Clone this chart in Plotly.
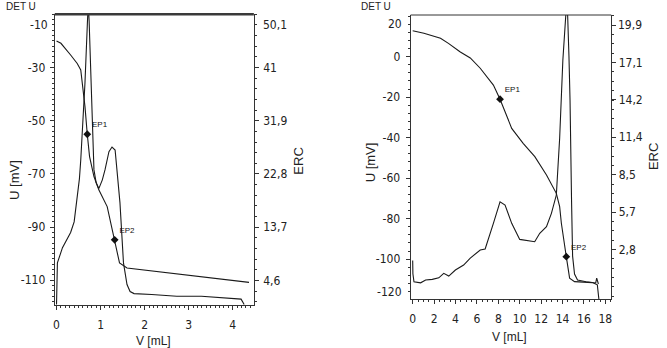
import plotly.graph_objects as go

# ---------------- data: left chart ----------------
left_v_u = [0, 0.1, 0.32, 0.47, 0.55, 0.585, 0.646, 0.698, 0.75, 0.85, 0.96, 1.15, 1.22, 1.32, 1.43, 1.6, 2.16, 2.7, 3.29, 3.96, 4.37]
left_u = [-20.0, -20.9, -25.3, -28.5, -30.9, -35.9, -44.7, -55.1, -63.5, -71.0, -76.0, -82.3, -87.3, -94.8, -103.5, -105.4, -106.5, -107.5, -108.8, -110.2, -110.8]

left_v_erc = [0, 0.01, 0.02, 0.135, 0.32, 0.40, 0.47, 0.52, 0.55, 0.585, 0.646, 0.70, 0.72, 0.74, 0.77, 0.81, 0.85, 0.90, 0.96, 1.04, 1.10, 1.19, 1.26, 1.33, 1.37, 1.44, 1.52, 1.60, 1.67, 1.76, 2.16, 2.73, 3.29, 3.74, 3.96, 4.19, 4.26]
left_erc = [0.5, 4.0, 7.6, 10.2, 12.8, 14.6, 18.4, 22.0, 25.2, 29.8, 38.4, 48.5, 52.0, 49.0, 41.2, 29.8, 23.5, 21.3, 20.3, 21.8, 23.5, 26.6, 27.4, 26.9, 23.5, 17.9, 7.6, 3.9, 2.7, 2.35, 2.2, 1.9, 1.9, 1.7, 1.55, 1.4, 0.5]

left_ep_v = [0.698, 1.32]
left_ep_u = [-55.1, -94.8]
left_ep_names = ["EP1", "EP2"]

left_u_ticks = [-10, -30, -50, -70, -90, -110]
left_u_labels = ["", "-30", "-50", "-70", "-90", "-110"]
left_erc_ticks = [4.6, 13.7, 22.8, 31.9, 41.0, 50.1]
left_erc_labels = ["4,6", "13,7", "22,8", "31,9", "41", ""]
left_v_ticks = [0, 1, 2, 3, 4]

# ---------------- data: right chart ----------------
right_v_u = [0, 1.05, 2.6, 3.34, 4.45, 5.38, 6.31, 7.54, 8.16, 9.25, 10.32, 11.41, 12.5, 13.27, 13.42, 13.73, 13.89, 14.35, 14.66, 15.12, 16.0, 16.79, 17.25, 17.44]
right_u = [12.8, 11.6, 9.1, 6.6, 2.3, -0.6, -5.7, -14.0, -21.0, -35.4, -42.8, -49.4, -58.4, -66.7, -67.5, -74.1, -82.3, -98.8, -109.4, -111.1, -111.3, -111.6, -112.7, -122.0]

right_v_erc = [0, 0.02, 0.12, 0.74, 1.21, 1.83, 2.44, 2.9, 3.37, 3.99, 4.76, 5.38, 6.31, 6.77, 7.54, 8.16, 8.63, 9.25, 10.0, 11.4, 11.87, 12.5, 12.96, 13.42, 13.73, 14.03, 14.3, 14.45, 14.6, 14.7, 14.84, 14.94, 15.12, 15.4, 16.2, 16.98, 17.1, 17.19, 17.25, 17.35]
right_erc = [2.0, 1.0, 0.39, 0.31, 0.52, 0.57, 0.69, 1.03, 0.82, 1.28, 1.66, 2.19, 2.8, 2.88, 4.83, 6.47, 6.22, 4.83, 3.61, 3.43, 4.07, 4.57, 5.59, 6.98, 11.3, 17.24, 20.6, 21.3, 17.5, 14.2, 6.6, 2.34, 0.98, 0.52, 0.39, 0.27, 0.3, 0.67, 0.4, 0.22]

right_ep_v = [8.16, 14.35]
right_ep_u = [-21.0, -98.8]
right_ep_names = ["EP1", "EP2"]

right_u_ticks = [-120, -100, -80, -60, -40, -20, 0, 20]
right_u_labels = ["", "-100", "-80", "-60", "-40", "-20", "0", ""]
right_erc_ticks = [2.84, 5.69, 8.53, 11.37, 14.21, 17.06, 19.9]
right_erc_labels = ["2,8", "5,7", "8,5", "11,4", "14,2", "17,1", ""]
right_v_ticks = [0, 2, 4, 6, 8, 10, 12, 14, 16, 18]

# ---------------- figure ----------------
W, H = 667, 348
LINE = "#1a1a1a"
AX = "#333333"
FONT = "Liberation Sans Narrow, Arial Narrow, DejaVu Sans Condensed, Liberation Sans, sans-serif"
TFONT = "Liberation Sans, Arial, sans-serif"
TICKSIZE = 12

def px(x):
    return x / W

def py(y):
    return 1 - y / H

fig = go.Figure()
lw = 1.1
fig.add_trace(go.Scatter(x=left_v_u, y=left_u, mode="lines", line=dict(color=LINE, width=lw),
                         xaxis="x", yaxis="y", showlegend=False))
fig.add_trace(go.Scatter(x=left_v_erc, y=left_erc, mode="lines", line=dict(color=LINE, width=lw),
                         xaxis="x", yaxis="y2", showlegend=False))
fig.add_trace(go.Scatter(x=left_ep_v, y=left_ep_u, mode="markers+text", text=left_ep_names,
                         textposition="top right", textfont=dict(size=8, color="#111", family=TFONT),
                         marker=dict(symbol="diamond", size=6, color="#111"),
                         xaxis="x", yaxis="y", showlegend=False))

fig.add_trace(go.Scatter(x=right_v_u, y=right_u, mode="lines", line=dict(color=LINE, width=lw),
                         xaxis="x2", yaxis="y3", showlegend=False))
fig.add_trace(go.Scatter(x=right_v_erc, y=right_erc, mode="lines", line=dict(color=LINE, width=lw),
                         xaxis="x2", yaxis="y4", showlegend=False))
fig.add_trace(go.Scatter(x=right_ep_v, y=right_ep_u, mode="markers+text", text=right_ep_names,
                         textposition="top right", textfont=dict(size=8, color="#111", family=TFONT),
                         marker=dict(symbol="diamond", size=6, color="#111"),
                         xaxis="x2", yaxis="y3", showlegend=False))

tickfont = dict(family=FONT, size=TICKSIZE, color="#222")
common = dict(showline=True, linecolor=AX, linewidth=1, ticks="outside", tickcolor=AX,
              ticklen=4, tickwidth=1, showgrid=False, zeroline=False, tickfont=tickfont,
              tickmode="array")

def minor(vals):
    return dict(tickmode="array", tickvals=vals, ticklen=2, tickcolor=AX, ticks="outside", tickwidth=1)

L_dom_x = [px(53), px(253)]
L_dom_y = [py(305), py(14.3)]
R_dom_x = [px(410.5), px(612)]
R_dom_y = [py(299), py(15)]

fig.update_layout(
    width=W, height=H,
    margin=dict(l=0, r=0, t=0, b=0),
    paper_bgcolor="white", plot_bgcolor="white",
    xaxis=dict(domain=L_dom_x, anchor="y", range=[-0.04, 4.48], tickvals=left_v_ticks,
               ticklabelstandoff=5, minor=minor([k * 0.1 for k in range(0, 45)]), **common),
    yaxis=dict(domain=L_dom_y, anchor="x", range=[-119.3, -10], tickvals=left_u_ticks,
               ticktext=left_u_labels, ticklabelstandoff=2,
               minor=minor([-118 + 2 * k for k in range(0, 55)]), **common),
    yaxis2=dict(overlaying="y", side="right", anchor="x", range=[0.4, 50.1],
                tickvals=left_erc_ticks, ticktext=left_erc_labels, ticklabelstandoff=2,
                minor=minor([4.6 + 1.82 * k for k in range(-2, 26)]), **common),
    xaxis2=dict(domain=R_dom_x, anchor="y3", range=[-0.19, 18.55], tickvals=right_v_ticks,
                ticklabelstandoff=5, minor=minor([k * 0.5 for k in range(0, 38)]), **common),
    yaxis3=dict(domain=R_dom_y, anchor="x2", range=[-119.7, 20.6], tickvals=right_u_ticks,
                ticktext=right_u_labels, ticklabelstandoff=3,
                minor=minor([-120 + 4 * k for k in range(0, 36)]), **common),
    yaxis4=dict(overlaying="y3", side="right", anchor="x2", range=[-0.92, 20.66],
                tickvals=right_erc_ticks, ticktext=right_erc_labels,
                minor=minor([0.71 * k for k in range(-1, 30)]), **common),
)

# top border lines
fig.add_shape(type="line", xref="paper", yref="paper", x0=L_dom_x[0], x1=L_dom_x[1],
              y0=L_dom_y[1], y1=L_dom_y[1], line=dict(color="#3a3a3a", width=2.5))
fig.add_shape(type="line", xref="paper", yref="paper", x0=R_dom_x[0], x1=R_dom_x[1],
              y0=R_dom_y[1], y1=R_dom_y[1], line=dict(color=AX, width=1))

def ann(text, x, y, size, angle=0, xanchor="center", family=TFONT):
    fig.add_annotation(text=text, x=px(x), y=py(y), xref="paper", yref="paper",
                       showarrow=False, textangle=angle, xanchor=xanchor, yanchor="middle",
                       font=dict(family=family, size=size, color="#222"))

ann("DET U", 2, 7, 10, xanchor="left")
ann("DET U", 359, 7, 10, xanchor="left")
ann("U [mV]", 12, 180, 13, angle=-90)
ann("U [mV]", 371, 162, 13, angle=-90)
ann("ERC", 297, 161, 13, angle=-90)
ann("ERC", 655, 157, 13, angle=-90)
ann("V [mL]", 152, 341, 12)
ann("V [mL]", 510, 337, 12)
# end-of-axis tick labels, nudged inside as in the reference
ann("-10", 48, 25, TICKSIZE, xanchor="right", family=FONT)
ann("50,1", 260, 25, TICKSIZE, xanchor="left", family=FONT)
ann("20", 404, 24, TICKSIZE, xanchor="right", family=FONT)
ann("-120", 404, 292, TICKSIZE, xanchor="right", family=FONT)
ann("19,9", 617, 25, TICKSIZE, xanchor="left", family=FONT)

fig.write_html("out.html")
